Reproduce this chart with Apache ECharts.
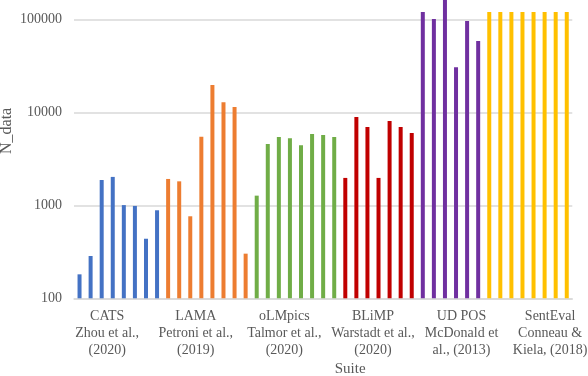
<!DOCTYPE html>
<html>
<head>
<meta charset="utf-8">
<script src="https://cdn.jsdelivr.net/npm/echarts@6/dist/echarts.min.js"></script>
<style>html,body{margin:0;padding:0;background:#fff;}#c{width:588px;height:376px;}</style>
</head>
<body>
<div id="c"></div>
<script>
// ---- data ----
const suites = ['CATS', 'LAMA', 'oLMpics', 'BLiMP', 'UD POS', 'SentEval'];
const suiteLabels = [
  'CATS\nZhou et al.,\n(2020)',
  'LAMA\nPetroni et al.,\n(2019)',
  'oLMpics\nTalmor et al.,\n(2020)',
  'BLiMP\nWarstadt et al.,\n(2020)',
  'UD POS\nMcDonald et\nal., (2013)',
  'SentEval\nConneau &\nKiela, (2018)'
];
const catsValues     = [181, 285, 1870, 2020, 1005, 985, 437, 884];
const lamaValues     = [1920, 1810, 762, 5470, 19700, 12800, 11400, 302];
const olmpicsValues  = [1270, 4560, 5420, 5250, 4420, 5840, 5700, 5420];
const blimpValues    = [1970, 8900, 6950, 1970, 8060, 6950, 5990];
const udposValues    = [120000, 101000, 180000, 30500, 96000, 58400];
const sentevalValues = [120000, 120000, 120000, 120000, 120000, 120000, 120000, 120000];
const suiteValues = [catsValues, lamaValues, olmpicsValues, blimpValues, udposValues, sentevalValues];
const yTicks = [100, 1000, 10000, 100000];

// ---- build ----
const colors = ['#4472C4', '#ED7D31', '#70AD47', '#C00000', '#7030A0', '#FFC000'];
const categories = [];
suites.forEach((s, si) => suiteValues[si].forEach((v, j) => categories.push(s + ' ' + (j + 1))));
const total = categories.length;
let offset = 0;
const series = suites.map((s, si) => {
  const data = new Array(total).fill('-');
  suiteValues[si].forEach((v, j) => { data[offset + j] = v; });
  offset += suiteValues[si].length;
  return {
    name: s, type: 'bar', data: data, barWidth: 4, barGap: '-100%',
    itemStyle: { color: colors[si] }, emphasis: { disabled: true }
  };
});
const labelStart = 2, labelStep = 8;
const font = 'Liberation Serif';
const textColor = '#595959';
// plot area: 100 at y=298.3, 100000 at y=19.3 (93 px per decade); extend top above canvas
const gridTop = -2.5;
const pxPerDecade = 93;
const yMax = Math.pow(10, Math.log10(yTicks[yTicks.length - 1]) + (19.3 - gridTop) / pxPerDecade);
const isTick = v => yTicks.some(t => Math.abs(v - t) / t < 1e-6);

const chart = echarts.init(document.getElementById('c'), null, { renderer: 'canvas' });
chart.setOption({
  animation: false,
  grid: { left: 74, right: 15.7, top: gridTop, bottom: 77.7, containLabel: false, outerBoundsMode: 'none' },
  xAxis: {
    type: 'category', data: categories,
    name: 'Suite', nameLocation: 'middle', nameGap: 63, nameMoveOverlap: false,
    nameTextStyle: { fontFamily: font, fontSize: 15, color: textColor, padding: [0, 0, 0, 54] },
    axisLine: { show: true, lineStyle: { color: '#d9d9d9', width: 1.5 } },
    axisTick: { show: false },
    axisLabel: {
      interval: 0, margin: 10, fontFamily: font, fontSize: 14, color: textColor, lineHeight: 16.7,
      padding: [0, 0, 0, 11],
      formatter: (v, idx) => ((idx - labelStart) % labelStep === 0 && idx >= labelStart) ? suiteLabels[(idx - labelStart) / labelStep] : ''
    }
  },
  yAxis: {
    type: 'log', logBase: 10, min: yTicks[0], max: yMax,
    name: 'N_data', nameLocation: 'middle', nameGap: 59, nameMoveOverlap: false,
    nameTextStyle: { fontFamily: font, fontSize: 16, color: textColor, padding: [0, 0, 0, 34] },
    axisLine: { show: false }, axisTick: { show: false },
    splitLine: { show: true, lineStyle: { color: '#d9d9d9', width: 1.5 } },
    axisLabel: { margin: 12, fontFamily: font, fontSize: 14, color: textColor,
      formatter: v => isTick(v) ? String(Math.round(v)) : '' }
  },
  series: series
});
</script>
</body>
</html>
